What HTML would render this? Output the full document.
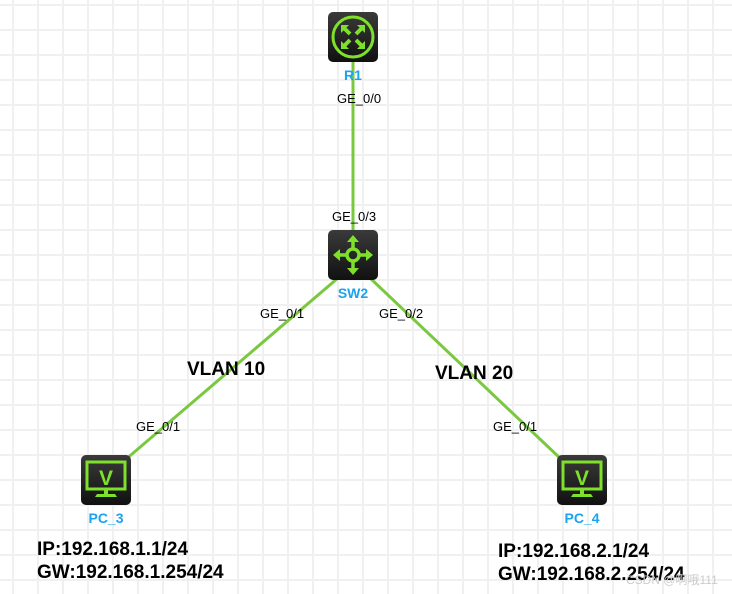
<!DOCTYPE html>
<html><head><meta charset="utf-8"><style>
html,body{margin:0;padding:0;background:#fff}
svg{display:block}
text{font-family:"Liberation Sans",Arial,sans-serif}
</style></head><body>
<svg width="732" height="594" viewBox="0 0 732 594" xmlns="http://www.w3.org/2000/svg">
<defs>
<pattern id="g" x="0" y="0" width="25" height="25" patternUnits="userSpaceOnUse">
<rect x="12" y="0" width="2" height="25" fill="#f0f0f0"/>
<rect x="0" y="4" width="25" height="2" fill="#f0f0f0"/>
</pattern>
<linearGradient id="bg" x1="0" y1="0" x2="0" y2="1"><stop offset="0" stop-color="#3a3a3a"/><stop offset="1" stop-color="#111"/></linearGradient>
</defs>
<rect width="732" height="594" fill="url(#g)"/>
<g stroke="#79c83f" stroke-width="3" fill="none">
<line x1="353" y1="60" x2="353" y2="232"/>
<line x1="338" y1="278" x2="125" y2="460"/>
<line x1="370" y1="278" x2="562" y2="460"/>
</g>
<rect x="328" y="12" width="50" height="50" rx="5" fill="url(#bg)"/>
<circle cx="353" cy="37" r="20" fill="none" stroke="#7ee02a" stroke-width="3"/>
<g stroke="#7ee02a" stroke-width="4" fill="none">
<path d="M343 27 L350 34 M363 27 L356 34 M343 47 L350 40 M363 47 L356 40"/>
</g>
<g fill="#7ee02a"><path d="M341 25h8l-8 8z M365 25h-8l8 8z M341 49h8l-8-8z M365 49h-8l8-8z"/></g>
<text x="353" y="80" font-size="14" font-weight="bold" fill="#1aa3f0" text-anchor="middle">R1</text>
<rect x="328" y="230" width="50" height="50" rx="5" fill="url(#bg)"/>
<g stroke="#7ee02a" stroke-width="3.5" fill="none">
<circle cx="353" cy="255" r="6"/>
<path d="M353 249V240 M353 261V270 M347 255H338 M359 255H368"/>
</g>
<g fill="#7ee02a"><path d="M353 235l-6 7h12z M353 275l-6-7h12z M333 255l7-6v12z M373 255l-7-6v12z"/></g>
<text x="353" y="298" font-size="14" font-weight="bold" fill="#1aa3f0" text-anchor="middle">SW2</text>
<g id="pc">
<rect x="81" y="455" width="50" height="50" rx="5" fill="url(#bg)"/>
<rect x="87" y="462" width="38" height="27" fill="none" stroke="#7ee02a" stroke-width="3"/>
<text x="106" y="485" font-size="21" font-weight="bold" fill="#7ee02a" text-anchor="middle">V</text>
<path d="M104 489h4v6h-4z M97 494h18l2 3h-22z" fill="#7ee02a"/>
</g>
<use href="#pc" x="476"/>
<text x="106" y="523" font-size="14" font-weight="bold" fill="#1aa3f0" text-anchor="middle">PC_3</text>
<text x="582" y="523" font-size="14" font-weight="bold" fill="#1aa3f0" text-anchor="middle">PC_4</text>
<g font-size="13" fill="#000">
<text x="337" y="103">GE_0/0</text>
<text x="332" y="221">GE_0/3</text>
<text x="260" y="318">GE_0/1</text>
<text x="379" y="318">GE_0/2</text>
<text x="136" y="431">GE_0/1</text>
<text x="493" y="431">GE_0/1</text>
</g>
<g font-size="19" font-weight="bold" fill="#000">
<text x="187" y="375">VLAN 10</text>
<text x="435" y="379">VLAN 20</text>
<text x="37" y="555">IP:192.168.1.1/24</text>
<text x="37" y="578">GW:192.168.1.254/24</text>
<text x="498" y="557">IP:192.168.2.1/24</text>
<text x="498" y="580">GW:192.168.2.254/24</text>
</g>
<text x="626" y="584" font-size="12" fill="#ccc">CSDN @啊哦111</text>
</svg>
</body></html>
